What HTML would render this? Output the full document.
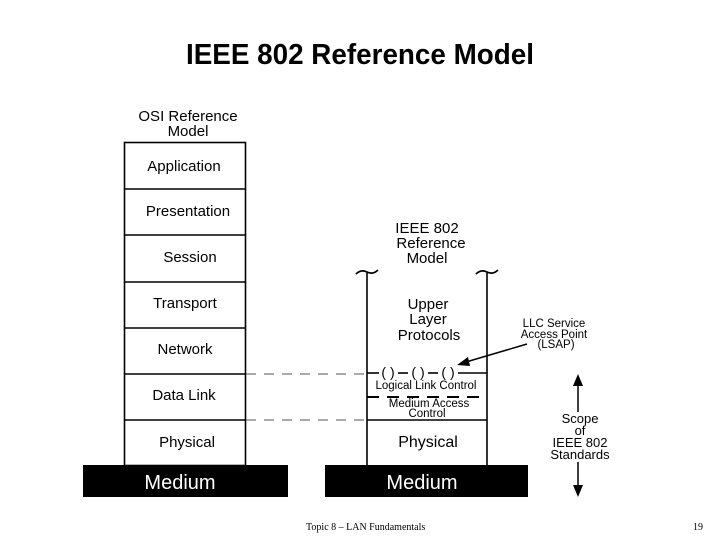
<!DOCTYPE html>
<html><head><style>
html,body{margin:0;padding:0;background:#fff;}
svg{display:block;}
text{font-family:"Liberation Sans",Arial,sans-serif;}
</style></head><body>
<svg width="720" height="540" viewBox="0 0 720 540" xmlns="http://www.w3.org/2000/svg">
<rect width="720" height="540" fill="#fff"/>
<text x="360" y="64" font-size="29" font-weight="bold" text-anchor="middle" textLength="348" lengthAdjust="spacingAndGlyphs">IEEE 802 Reference Model</text>

<!-- OSI -->
<text x="188" y="121" font-size="15" text-anchor="middle">OSI Reference</text>
<text x="188" y="136" font-size="15" text-anchor="middle">Model</text>
<g stroke="#000" stroke-width="1.6" fill="none">
<rect x="124.5" y="142.5" width="121" height="323"/>
<line x1="124" y1="189" x2="245" y2="189"/>
<line x1="124" y1="235" x2="245" y2="235"/>
<line x1="124" y1="282" x2="245" y2="282"/>
<line x1="124" y1="328" x2="245" y2="328"/>
<line x1="124" y1="374" x2="245" y2="374"/>
<line x1="124" y1="420" x2="245" y2="420"/>
</g>
<g font-size="15" text-anchor="middle">
<text x="184" y="171">Application</text>
<text x="188" y="216">Presentation</text>
<text x="190" y="262">Session</text>
<text x="185" y="308">Transport</text>
<text x="185" y="354">Network</text>
<text x="184" y="400">Data Link</text>
<text x="187" y="447">Physical</text>
</g>
<rect x="83" y="465" width="205" height="32" fill="#000"/>
<text x="180" y="489" font-size="20" fill="#fff" text-anchor="middle">Medium</text>

<!-- dashed connectors -->
<g stroke="#555" stroke-width="1" stroke-dasharray="10,8">
<line x1="246" y1="374" x2="367" y2="374"/>
<line x1="246" y1="420" x2="367" y2="420"/>
</g>

<!-- IEEE -->
<g font-size="15" text-anchor="middle">
<text x="427" y="233">IEEE 802</text>
<text x="431" y="248">Reference</text>
<text x="427" y="263">Model</text>
</g>
<g stroke="#000" stroke-width="1.6" fill="none">
<line x1="367" y1="272" x2="367" y2="465"/>
<line x1="487" y1="272" x2="487" y2="465"/>
<path d="M356 274 q5 -5 11 -2 q6 3 11 -2"/>
<path d="M476 274 q5 -5 11 -2 q6 3 11 -2"/>
<line x1="367" y1="373" x2="379" y2="373"/>
<line x1="398" y1="373" x2="408" y2="373"/>
<line x1="428" y1="373" x2="438" y2="373"/>
<line x1="458" y1="373" x2="487" y2="373"/>
<line x1="367" y1="420" x2="487" y2="420"/>
<line x1="367" y1="397" x2="487" y2="397" stroke-width="2" stroke-dasharray="12,8"/>
</g>
<g font-size="14" text-anchor="middle">
<text x="388" y="377">( )</text>
<text x="418" y="377">( )</text>
<text x="448" y="377">( )</text>
</g>
<g font-size="15" text-anchor="middle">
<text x="428" y="309">Upper</text>
<text x="428" y="324">Layer</text>
<text x="429" y="340">Protocols</text>
</g>
<text x="426" y="389" font-size="11.5" text-anchor="middle">Logical Link Control</text>
<text x="429" y="407" font-size="11.5" text-anchor="middle">Medium Access</text>
<text x="427" y="417" font-size="11.5" text-anchor="middle">Control</text>
<text x="428" y="447" font-size="16" text-anchor="middle">Physical</text>
<rect x="325" y="465" width="203" height="32" fill="#000"/>
<text x="422" y="489" font-size="20" fill="#fff" text-anchor="middle">Medium</text>

<!-- LSAP -->
<g font-size="11.5" text-anchor="middle">
<text x="554" y="327">LLC Service</text>
<text x="554" y="338">Access Point</text>
<text x="556" y="348">(LSAP)</text>
</g>
<line x1="527" y1="344" x2="466" y2="362" stroke="#000" stroke-width="1.5"/>
<polygon points="457,365 468,357 470,366" fill="#000"/>

<!-- Scope -->
<line x1="578" y1="382" x2="578" y2="412" stroke="#000" stroke-width="1.5"/>
<line x1="578" y1="462" x2="578" y2="490" stroke="#000" stroke-width="1.5"/>
<polygon points="578,374 573,386 583,386" fill="#000"/>
<polygon points="578,497 573,485 583,485" fill="#000"/>
<g font-size="13" text-anchor="middle">
<text x="580" y="423">Scope</text>
<text x="580" y="435">of</text>
<text x="580" y="447">IEEE 802</text>
<text x="580" y="459">Standards</text>
</g>

<text x="306" y="530" font-size="10" style="font-family:'Liberation Serif',serif">Topic 8 – LAN Fundamentals</text>
<text x="703" y="530" font-size="10" text-anchor="end" style="font-family:'Liberation Serif',serif">19</text>
</svg>
</body></html>
